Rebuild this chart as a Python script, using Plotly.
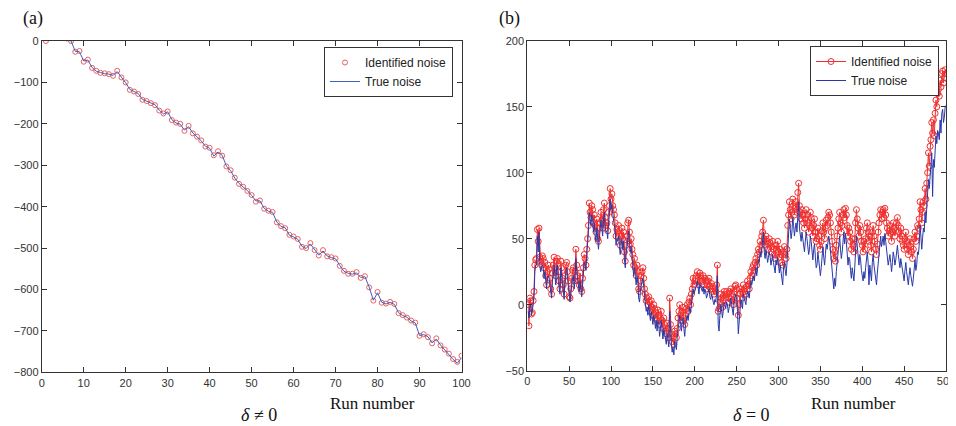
import plotly.graph_objects as go

# ---------------- Panel (a): delta != 0 ----------------
runs_a = list(range(1, 101))
ident_a = [0, 12, 18, 15, 10, 6, 0, -26, -24, -50,
           -45, -65, -72, -77, -78, -80, -84, -72, -88, -100,
           -118, -122, -128, -142, -145, -150, -155, -168, -175, -170,
           -191, -197, -200, -217, -205, -223, -231, -240, -255, -258,
           -276, -266, -277, -303, -312, -330, -345, -352, -362, -372,
           -388, -385, -405, -410, -413, -438, -447, -452, -468, -472,
           -478, -497, -500, -488, -505, -518, -505, -520, -522, -525,
           -543, -555, -562, -562, -558, -572, -568, -595, -627, -606,
           -632, -634, -630, -635, -657, -662, -668, -675, -680, -712,
           -708, -715, -730, -718, -735, -745, -755, -768, -775, -760]
true_a = [0, 12, 18, 15, 10, 6, 0, -25, -26, -48,
          -46, -64, -73, -76, -79, -80, -83, -74, -87, -101,
          -117, -123, -127, -141, -146, -151, -154, -167, -176, -171,
          -190, -198, -201, -215, -207, -222, -232, -241, -254, -259,
          -278, -268, -276, -302, -313, -331, -344, -353, -361, -373,
          -386, -386, -404, -411, -414, -437, -448, -451, -469, -473,
          -479, -496, -501, -490, -504, -517, -507, -519, -523, -526,
          -542, -556, -561, -563, -560, -571, -569, -594, -626, -608,
          -631, -635, -631, -636, -656, -663, -667, -676, -681, -711,
          -709, -714, -729, -720, -734, -746, -756, -769, -778, -765]

# ---------------- Panel (b): delta = 0 ----------------
runs_b = list(range(1, 501))
ident_b = [
    0, -16, 5, 3, -7, -6, 3, 10, 30, 34,
    35, 57, 48, 58, 36, 33, 30, 37, 35, 28,
    32, 22, 15, 25, 30, 27, 20, 12, 8, 24,
    30, 36, 28, 22, 33, 35, 25, 18, 12, 33,
    28, 20, 15, 8, 22, 30, 32, 25, 18, 6,
    5, 12, 20, 26, 28, 18, 25, 42, 30, 22,
    18, 15, 24, 12, 10, 20, 28, 38, 35, 30,
    42, 50, 60, 77, 70, 66, 75, 72, 62, 68,
    60, 55, 65, 50, 48, 58, 62, 70, 64, 58,
    72, 77, 66, 60, 62, 56, 70, 75, 88, 80,
    84, 75, 72, 68, 62, 52, 57, 55, 60, 52,
    45, 52, 58, 50, 55, 40, 33, 45, 52, 62,
    64, 55, 46, 50, 42, 38, 30, 35, 28, 22,
    30, 25, 12, 10, 18, 22, 25, 28, 20, 12,
    8, 3, 5, 0, 6, 2, -5, 3, -2, -8,
    0, -3, -10, -6, -12, -4, -8, -15, -10, -5,
    -12, -18, -10, -15, -20, -22, -14, -18, -25, 5,
    -15, -22, -28, -25, -30, -20, -22, -25, -18, -10,
    -5, 0, -8, -12, -5, -2, -10, -15, -8, -3,
    0, -5, 2, 5, 0, 8, 12, 20, 15, 18,
    20, 22, 25, 18, 15, 24, 22, 20, 18, 22,
    15, 20, 18, 12, 15, 18, 20, 14, 12, 16,
    14, 10, 8, 12, 10, 15, 30, -5, -3, 2,
    8, 5, -2, 3, 10, 8, 5, 10, 8, 2,
    5, 10, 12, 8, 3, 0, 10, 14, 15, 12,
    5, -8, 0, 8, 12, 10, 5, 15, 12, 10,
    8, 14, 18, 15, 12, 20, 25, 22, 28, 30,
    26, 32, 35, 30, 38, 42, 40, 48, 45, 52,
    55, 64, 50, 45, 52, 48, 42, 46, 50, 47,
    40, 44, 48, 42, 38, 35, 45, 42, 48, 40,
    36, 42, 38, 32, 30, 40, 44, 38, 35, 42,
    60, 68, 78, 72, 65, 70, 80, 75, 68, 73,
    78, 70, 85, 92, 75, 70, 65, 72, 68, 62,
    58, 65, 72, 68, 62, 55, 60, 70, 66, 58,
    52, 60, 65, 55, 48, 50, 58, 52, 45, 42,
    48, 56, 62, 55, 50, 58, 64, 60, 66, 70,
    68, 62, 55, 48, 42, 35, 40, 33, 45, 52,
    58, 65, 70, 62, 55, 60, 68, 72, 66, 73,
    68, 60, 52, 58, 55, 48, 42, 50, 45, 40,
    50, 62, 72, 65, 58, 52, 60, 55, 48, 45,
    40, 48, 42, 50, 58, 62, 55, 48, 52, 45,
    40, 55, 60, 52, 48, 42, 38, 46, 55, 62,
    68, 72, 65, 70, 72, 66, 73, 68, 62, 58,
    52, 56, 60, 54, 48, 55, 62, 58, 52, 56,
    62, 66, 60, 55, 50, 58, 52, 48, 45, 42,
    50, 55, 48, 42, 38, 45, 50, 44, 40, 35,
    42, 50, 55, 48, 52, 60, 58, 65, 78, 72,
    62, 70, 78, 75, 88, 80, 92, 100, 115, 105,
    120, 125, 138, 130, 140, 128, 145, 155, 150, 160,
    163, 158, 170, 165, 175, 177, 168, 172, 178, 175]
true_b = [
    -5, -10, -2, 0, -8, -4, 0, 5, 25, 30,
    30, 52, 40, 55, 30, 25, 28, 30, 28, 20,
    25, 15, 12, 20, 22, 20, 15, 8, 5, 18,
    22, 30, 24, 15, 28, 30, 18, 12, 8, 28,
    22, 15, 10, 4, 18, 25, 28, 20, 12, 3,
    2, 8, 15, 20, 22, 12, 20, 35, 25, 18,
    12, 10, 18, 8, 6, 15, 22, 32, 30, 26,
    38, 45, 55, 70, 65, 60, 68, 66, 55, 62,
    52, 48, 58, 45, 42, 50, 55, 64, 58, 52,
    65, 70, 58, 55, 56, 50, 62, 68, 80, 72,
    76, 68, 64, 60, 55, 45, 50, 48, 52, 44,
    38, 45, 50, 42, 48, 34, 28, 38, 45, 55,
    56, 48, 40, 44, 35, 30, 22, 28, 20, 15,
    22, 18, 5, 2, 10, 15, 18, 20, 12, 5,
    0, -5, -2, -8, 0, -6, -12, -5, -10, -15,
    -8, -10, -18, -12, -20, -12, -15, -24, -18, -12,
    -20, -26, -18, -22, -28, -30, -22, -26, -32, -5,
    -24, -30, -36, -32, -38, -28, -30, -34, -25, -18,
    -12, -8, -15, -20, -12, -10, -18, -24, -15, -10,
    -8, -12, -5, -2, -6, 2, 5, 12, 8, 10,
    12, 15, 18, 10, 8, 16, 14, 12, 10, 14,
    8, 12, 10, 5, 8, 10, 12, 6, 4, 8,
    6, 2, 0, 4, 2, 8, 22, -15, -20, -8,
    0, -3, -10, -5, 2, 0, -3, 2, 0, -6,
    -2, 2, 5, 0, -5, -8, 2, 6, 8, 4,
    -5, -22, -10, 0, 4, 2, -3, 8, 5, 2,
    0, 6, 10, 8, 5, 12, 18, 15, 20, 22,
    18, 24, 28, 22, 30, 34, 32, 40, 36, 44,
    46, 55, 40, 35, 42, 38, 32, 36, 40, 36,
    30, 34, 38, 32, 26, 24, 34, 30, 36, 28,
    24, 30, 26, 20, 15, 28, 32, 26, 22, 30,
    45, 55, 65, 58, 50, 55, 66, 60, 52, 58,
    62, 55, 70, 78, 58, 52, 48, 55, 50, 44,
    40, 48, 55, 50, 44, 38, 42, 52, 48, 40,
    34, 42, 46, 36, 28, 30, 40, 34, 26, 22,
    28, 36, 44, 36, 30, 38, 46, 42, 48, 52,
    48, 40, 32, 24, 18, 12, 20, 14, 25, 32,
    38, 45, 52, 42, 35, 40, 48, 55, 46, 54,
    48, 40, 30, 36, 34, 26, 20, 28, 24, 18,
    28, 40, 52, 45, 36, 30, 38, 34, 26, 22,
    18, 25, 20, 28, 36, 40, 32, 15, 30, 24,
    18, 32, 38, 30, 25, 20, 15, 24, 32, 40,
    46, 52, 44, 50, 52, 45, 54, 48, 40, 36,
    30, 34, 38, 32, 25, 32, 40, 36, 30, 34,
    40, 45, 38, 32, 28, 35, 30, 25, 22, 18,
    26, 32, 25, 18, 15, 22, 28, 22, 18, 14,
    20, 28, 34, 26, 30, 40, 38, 45, 60, 52,
    42, 50, 58, 55, 70, 62, 75, 82, 95, 88,
    100, 105, 115, 82, 110, 104, 118, 128, 122, 132,
    130, 125, 140, 130, 145, 148, 138, 142, 150, 151]

ticks_a_x = list(range(0, 101, 10))
ticks_a_y = list(range(-800, 1, 100))
ticks_b_x = list(range(0, 501, 50))
ticks_b_y = list(range(-50, 201, 50))

RED = "#F03030"
RED_A = "#E86060"
BLUE = "#2838A8"
TICKFONT = dict(family="Liberation Sans, Arial", size=11, color="#333333")
SERIF = "Liberation Serif, Times New Roman"

# page body adds an 8px offset; lay the figure out in page pixels minus that offset
OFF = 8
W, H = 956 - OFF, 426 - OFF

def fx(px):
    return (px - OFF) / W

def fy(py):
    return 1 - (py - OFF) / H

fig = go.Figure()
fig.add_trace(go.Scatter(x=runs_a, y=ident_a, mode="markers", name="Identified noise",
                         marker=dict(symbol="circle-open", size=5, color=RED_A, line=dict(width=1)),
                         xaxis="x", yaxis="y", legend="legend"))
fig.add_trace(go.Scatter(x=runs_a, y=true_a, mode="lines", name="True noise",
                         line=dict(color="#4060C0", width=1),
                         xaxis="x", yaxis="y", legend="legend"))
fig.add_trace(go.Scatter(x=runs_b, y=ident_b, mode="lines+markers", name="Identified noise",
                         line=dict(color=RED, width=1),
                         marker=dict(symbol="circle-open", size=6, color=RED, line=dict(width=1)),
                         xaxis="x2", yaxis="y2", legend="legend2"))
fig.add_trace(go.Scatter(x=runs_b, y=true_b, mode="lines", name="True noise",
                         line=dict(color=BLUE, width=1),
                         xaxis="x2", yaxis="y2", legend="legend2"))

axis_common = dict(showline=True, linecolor="#333333", linewidth=1, mirror="ticks",
                   ticks="inside", ticklen=5, tickcolor="#333333", showgrid=False,
                   zeroline=False, tickfont=TICKFONT, automargin=False)

legend_common = dict(xanchor="left", yanchor="top",
                     bgcolor="white", bordercolor="#333333", borderwidth=1,
                     font=dict(family="Liberation Sans, Arial", size=12, color="#222222"),
                     itemwidth=30, tracegroupgap=0)

def ann(text, px, py, size):
    return dict(text=text, x=fx(px), y=fy(py), xref="paper", yref="paper",
                xanchor="center", yanchor="middle", showarrow=False,
                font=dict(family=SERIF, size=size, color="#111111"))

fig.update_layout(
    width=W, height=H, autosize=False,
    margin=dict(l=0, r=0, t=0, b=0, pad=0),
    paper_bgcolor="white", plot_bgcolor="white",
    showlegend=True,
    xaxis=dict(domain=[fx(41.7), fx(461.5)], range=[0, 100], tickvals=ticks_a_x,
               anchor="y", **axis_common),
    yaxis=dict(domain=[fy(372.3), fy(41)], range=[-800, 0], tickvals=ticks_a_y,
               anchor="x", **axis_common),
    xaxis2=dict(domain=[fx(527.3), fx(946)], range=[0, 500], tickvals=ticks_b_x,
                anchor="y2", **axis_common),
    yaxis2=dict(domain=[fy(370.7), fy(40.7)], range=[-50, 200], tickvals=ticks_b_y,
                anchor="x2", **axis_common),
    legend=dict(x=fx(324), y=fy(47), **legend_common),
    legend2=dict(x=fx(810), y=fy(46), **legend_common),
    annotations=[
        ann("(a)", 33, 19, 18),
        ann("(b)", 509, 18, 18),
        ann("Run number", 372, 403, 17),
        ann("<i>δ</i> ≠ 0", 259, 415, 18),
        ann("Run number", 853, 403, 17),
        ann("<i>δ</i> = 0", 751, 415, 18),
    ],
)

fig.write_html("out.html")
